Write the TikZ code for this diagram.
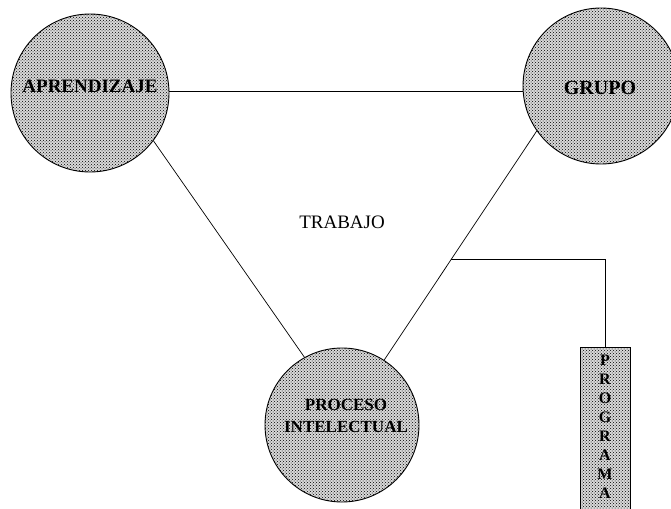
\documentclass[tikz,border=0pt]{standalone}
\usepackage{fontspec}
\setmainfont{Liberation Serif}
\usetikzlibrary{patterns,calc}
\begin{document}
\begin{tikzpicture}[x=1pt,y=-1pt,
  stipple/.style={preaction={fill=gray!30},pattern=crosshatch dots,pattern color=black},
  ball/.style={circle,draw,line width=0.9pt,stipple,minimum size=#1,inner sep=0pt},
  lbl/.style={font=\bfseries\fontsize{19}{22}\selectfont,align=center,inner sep=0pt},
  conn/.style={line width=0.7pt}]
\useasboundingbox (0,0) rectangle (671,508);
\clip (0,0) rectangle (671,508);
% circles
\node[ball=158pt] (ap) at (90,93) {};
\node[ball=156pt] (gr) at (601,86) {};
\node[ball=154pt] (pr) at (342,425) {};
% labels
\node[lbl] (aptext) at (90,86) {APRENDIZAJE};
\node[lbl,font=\bfseries\fontsize{20}{22}\selectfont] (grtext) at (600,88) {GRUPO};
\node[lbl,font=\bfseries\fontsize{17}{22}\selectfont] (prtext) at (346,416) {PROCESO\\INTELECTUAL};
\node[font=\fontsize{19}{22}\selectfont,inner sep=0pt] (tr) at (342,222) {TRABAJO};
% programa box
\node[draw,line width=0.9pt,stipple,anchor=north,
      minimum width=50pt,inner ysep=8pt,inner xsep=0pt,text depth=20pt,
      font=\bfseries\fontsize{16}{19}\selectfont,align=center] (pg) at (605,347)
      {P\\R\\O\\G\\R\\A\\M\\A};
% connectors
\draw[conn] (ap.east |- 0,91) -- (gr.west |- 0,91);
\draw[conn] (ap.-37) -- (pr.119);
\draw[conn] (gr.-145) -- (pr.57);
\coordinate (j) at ($(gr.-145)!0.56!(pr.57)$);
\draw[conn] (j) -- (j -| pg.north) -- (pg.north);
\end{tikzpicture}
\end{document}
